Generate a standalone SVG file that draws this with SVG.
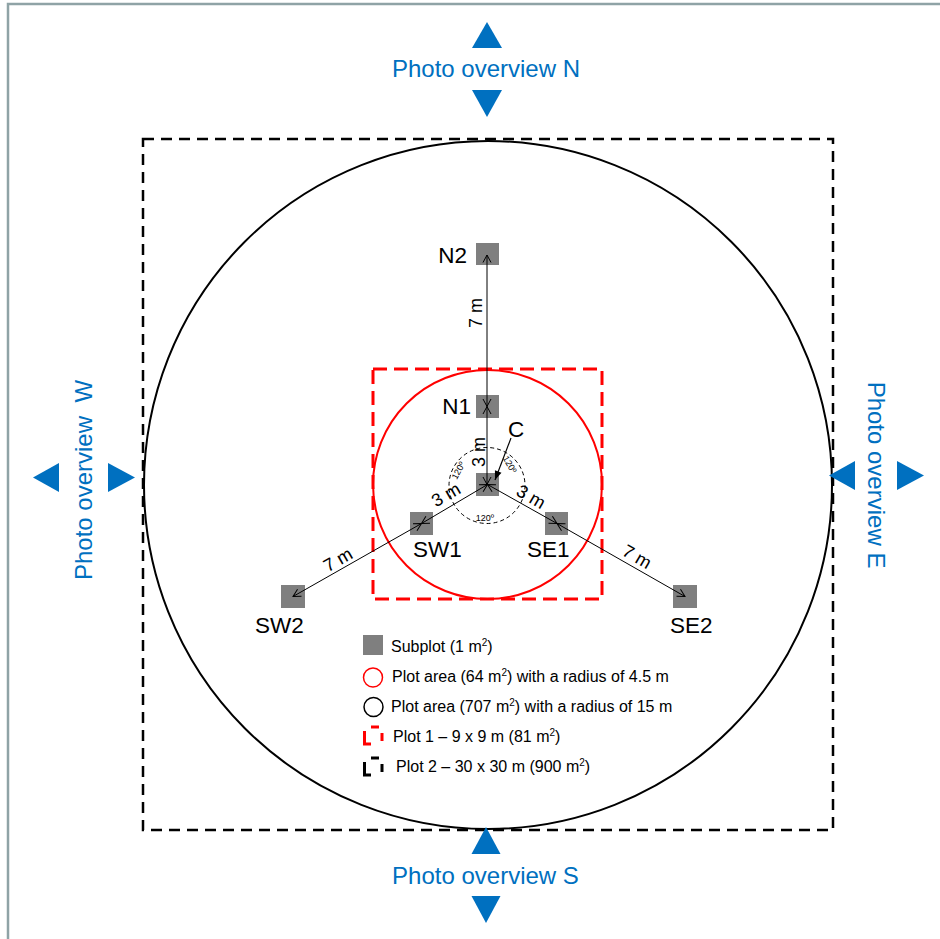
<svg xmlns="http://www.w3.org/2000/svg" width="940" height="939" viewBox="0 0 940 939">
<defs>
<style>
.sub{fill:#7f7f7f}
.lbl{font-family:"Liberation Sans",Arial,sans-serif;font-size:22.5px;fill:#000}
.dim{font-family:"Liberation Sans",Arial,sans-serif;font-size:18px;fill:#000}
.deg{font-family:"Liberation Sans",Arial,sans-serif;font-size:9px;fill:#000}
.leg{font-family:"Liberation Sans",Arial,sans-serif;font-size:16px;fill:#000}
.photo{font-family:"Liberation Sans",Arial,sans-serif;font-size:24px;fill:#0070C0}
.tri{fill:#0070C0}
.conn{stroke:#000;stroke-width:1;fill:none;marker-start:url(#open);marker-end:url(#open)}
</style>
<marker id="open" markerUnits="userSpaceOnUse" markerWidth="12" markerHeight="12" viewBox="-10 -6 12 12" refX="0" refY="0" orient="auto-start-reverse">
<path d="M-7.5,-4 L0,0 L-7.5,4" fill="none" stroke="#000" stroke-width="1"/>
</marker>
<marker id="solid" markerUnits="userSpaceOnUse" markerWidth="12" markerHeight="12" viewBox="-10 -6 12 12" refX="0" refY="0" orient="auto">
<path d="M-9,-3.5 L0,0 L-9,3.5 Z" fill="#000"/>
</marker>
</defs>
<rect width="940" height="939" fill="#fff"/>
<!-- frame -->
<path d="M8,939 V4 H940" fill="none" stroke="#8FA3A6" stroke-width="2.5"/>

<!-- plot outlines -->
<g id="plot2">
<rect x="143" y="139" width="690" height="691" fill="none" stroke="#000" stroke-width="2.5" stroke-dasharray="11 7"/>
</g>
<g id="circle15">
<circle cx="488" cy="485" r="344" fill="none" stroke="#000" stroke-width="2"/>
</g>
<g id="plot1">
<rect x="373" y="369" width="229" height="230" fill="none" stroke="#FF0000" stroke-width="3" stroke-dasharray="14 7"/>
</g>
<g id="circle45">
<circle cx="487.5" cy="484.5" r="114.5" fill="none" stroke="#FF0000" stroke-width="2"/>
</g>
<g id="angles">
<circle cx="487" cy="485.5" r="38" fill="none" stroke="#000" stroke-width="1" stroke-dasharray="4 3"/>
<text class="deg" transform="translate(461,472) rotate(-62)" text-anchor="middle">120º</text>
<text class="deg" transform="translate(507,466) rotate(60)" text-anchor="middle">120º</text>
<text class="deg" x="485" y="521" text-anchor="middle">120º</text>
</g>

<!-- subplots -->
<g id="N2"><rect class="sub" x="476" y="243" width="23" height="22"/><text class="lbl" x="467" y="263" text-anchor="end">N2</text></g>
<g id="N1"><rect class="sub" x="476" y="395" width="23" height="23"/><text class="lbl" x="471" y="414" text-anchor="end">N1</text></g>
<g id="C"><rect class="sub" x="476" y="473" width="23" height="23"/><text class="lbl" x="508" y="437">C</text></g>
<g id="SW1"><rect class="sub" x="410" y="512" width="23" height="23"/><text class="lbl" x="413" y="557">SW1</text></g>
<g id="SE1"><rect class="sub" x="545" y="512" width="23" height="23"/><text class="lbl" x="527" y="557">SE1</text></g>
<g id="SW2"><rect class="sub" x="281" y="585" width="24" height="23"/><text class="lbl" x="255" y="633">SW2</text></g>
<g id="SE2"><rect class="sub" x="673" y="585" width="24" height="23"/><text class="lbl" x="670" y="633">SE2</text></g>

<!-- connectors -->
<g id="connectors">
<line class="conn" x1="487" y1="484.5" x2="487" y2="406.5"/>
<line class="conn" x1="487" y1="406.5" x2="487" y2="255"/>
<line class="conn" x1="487.5" y1="484.5" x2="421.5" y2="523.5"/>
<line class="conn" x1="421.5" y1="523.5" x2="293" y2="596.5"/>
<line class="conn" x1="487.5" y1="484.5" x2="557" y2="523.5"/>
<line class="conn" x1="557" y1="523.5" x2="685" y2="596.5"/>
<line x1="511" y1="438" x2="495" y2="480" stroke="#000" stroke-width="1.2" marker-end="url(#solid)"/>
</g>
<g id="dims">
<text class="dim" transform="translate(482,313) rotate(-90)" text-anchor="middle">7 m</text>
<text class="dim" transform="translate(485,452) rotate(-90)" text-anchor="middle">3 m</text>
<text class="dim" transform="translate(449,500) rotate(-30)" text-anchor="middle">3 m</text>
<text class="dim" transform="translate(528,502) rotate(30)" text-anchor="middle">3 m</text>
<text class="dim" transform="translate(341,565) rotate(-30)" text-anchor="middle">7 m</text>
<text class="dim" transform="translate(634,562) rotate(30)" text-anchor="middle">7 m</text>
</g>

<!-- photo overview markers -->
<g id="photoN">
<polygon class="tri" points="487,22 472,48 502,48"/>
<text class="photo" x="486" y="77" text-anchor="middle">Photo overview N</text>
<polygon class="tri" points="472,90 502,90 487,117"/>
</g>
<g id="photoS">
<polygon class="tri" points="486,827 471.5,854 500.5,854"/>
<text class="photo" x="485.5" y="884" text-anchor="middle">Photo overview S</text>
<polygon class="tri" points="471.5,896 500.5,896 486,923"/>
</g>
<g id="photoW">
<polygon class="tri" points="33,477.5 59,463 59,492"/>
<polygon class="tri" points="108,463 108,492 135,477.5"/>
<text class="photo" transform="translate(92,480) rotate(-90)" text-anchor="middle">Photo overview&#160; W</text>
</g>
<g id="photoE">
<polygon class="tri" points="829,475.5 855,461 855,490"/>
<polygon class="tri" points="897,461 897,490 924,475.5"/>
<text class="photo" transform="translate(868,475) rotate(90)" text-anchor="middle">Photo overview E</text>
</g>

<!-- legend -->
<g id="legend">
<rect class="sub" x="363" y="635" width="20" height="20"/>
<text class="leg" x="391" y="652">Subplot (1 m<tspan font-size="10" dy="-6">2</tspan><tspan dy="6">)</tspan></text>
<circle cx="373" cy="677.5" r="9.5" fill="none" stroke="#FF0000" stroke-width="1.5"/>
<text class="leg" x="392" y="682">Plot area (64 m<tspan font-size="10" dy="-6">2</tspan><tspan dy="6">) with a radius of 4.5 m</tspan></text>
<circle cx="373.5" cy="707" r="9.5" fill="none" stroke="#000" stroke-width="1.5"/>
<text class="leg" x="391" y="712">Plot area (707 m<tspan font-size="10" dy="-6">2</tspan><tspan dy="6">) with a radius of 15 m</tspan></text>
<path d="M371,727 H379 M364.5,731 V744 H371 M382,733 V741" fill="none" stroke="#FF0000" stroke-width="3"/>
<text class="leg" x="393" y="742">Plot 1 – 9 x 9 m (81 m<tspan font-size="10" dy="-6">2</tspan><tspan dy="6">)</tspan></text>
<path d="M371,758 H379 M364.5,762 V775 H371 M382,764 V772" fill="none" stroke="#000" stroke-width="3"/>
<text class="leg" x="396" y="772">Plot 2 – 30 x 30 m (900 m<tspan font-size="10" dy="-6">2</tspan><tspan dy="6">)</tspan></text>
</g>
</svg>
